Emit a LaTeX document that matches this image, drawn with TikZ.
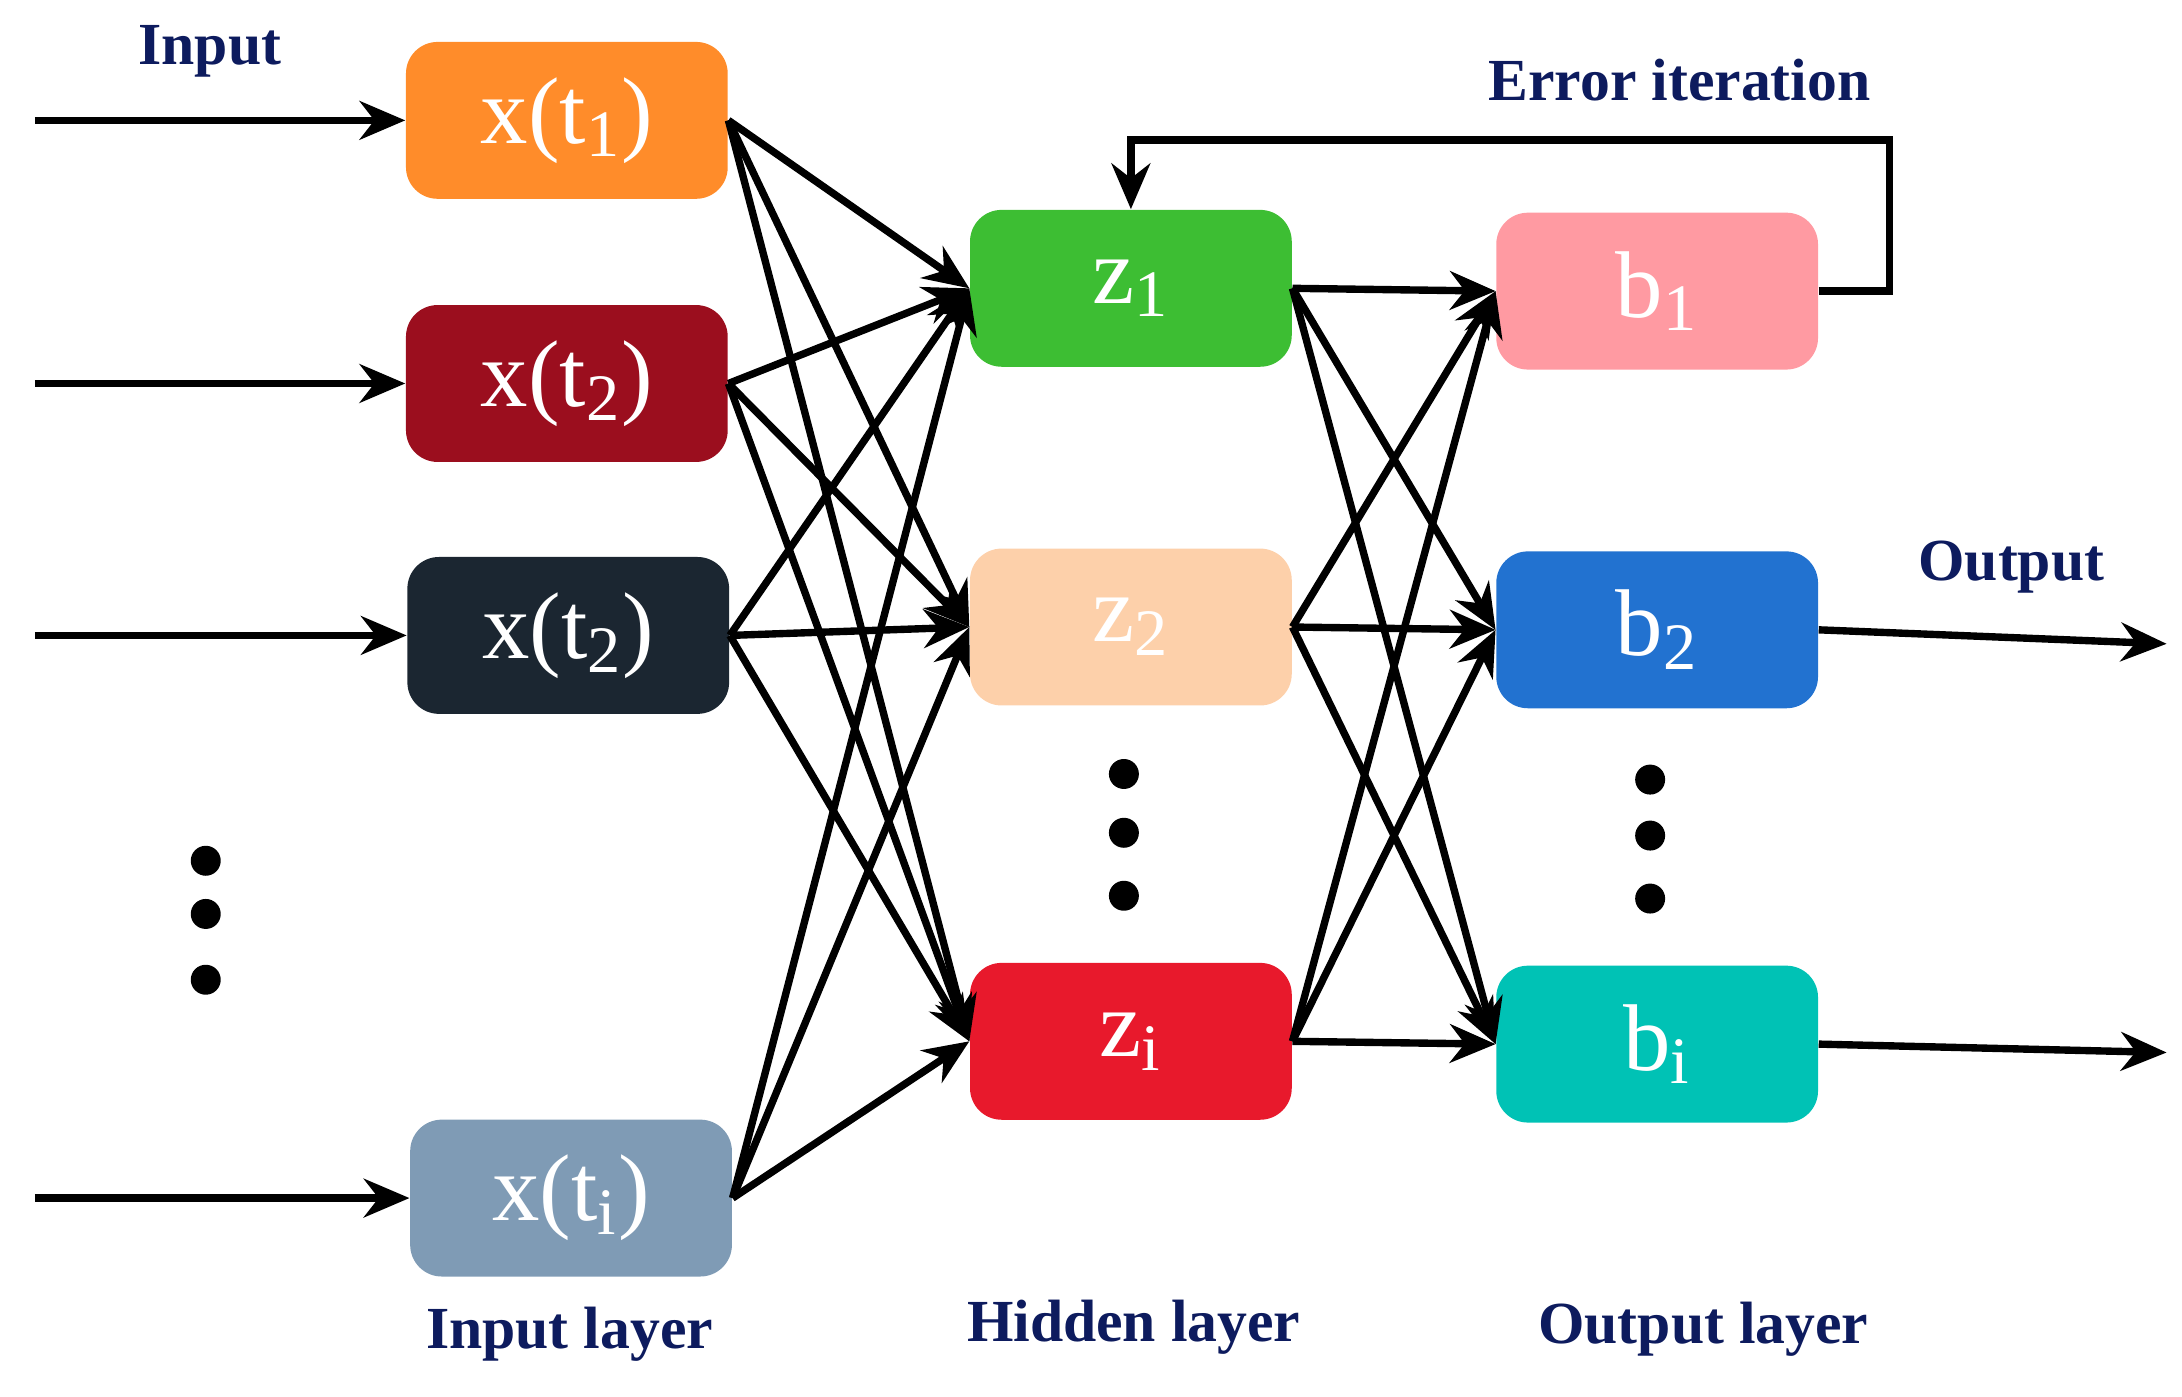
\documentclass[tikz,border=0pt]{standalone}
\usepackage{fontspec}
\setmainfont{Liberation Serif}
\usetikzlibrary{arrows.meta}
\definecolor{navy}{HTML}{0D1B5E}
\begin{document}
\begin{tikzpicture}[x=0.014cm,y=-0.014cm,
 box/.style={rounded corners=9pt,minimum width=3.22cm,minimum height=1.57cm,inner sep=0pt,text=white,font=\fontsize{27}{30}\selectfont},
 lab/.style={text=navy,font=\fontsize{17}{20}\selectfont\bfseries},
 con/.style={line width=2.1pt,-{Stealth[length=13pt,width=11pt]}},
 dot/.style={circle,fill=black,inner sep=0pt,minimum size=0.3cm}]
\useasboundingbox (0,0) rectangle (1559,998);
\node[box,fill={rgb,255:red,255;green,140;blue,42}] (x1) at (405,86) {x(t$_\mathrm{1}$)};
\node[box,fill={rgb,255:red,155;green,14;blue,30}] (x2) at (405,274) {x(t$_\mathrm{2}$)};
\node[box,fill={rgb,255:red,27;green,38;blue,49}] (x3) at (406,454) {x(t$_\mathrm{2}$)};
\node[box,fill={rgb,255:red,127;green,155;blue,181}] (xi) at (408,856) {x(t$_\mathrm{i}$)};
\node[box,fill={rgb,255:red,61;green,190;blue,51}] (z1) at (808,206) {z$_\mathrm{1}$};
\node[box,fill={rgb,255:red,253;green,208;blue,170}] (z2) at (808,448) {z$_\mathrm{2}$};
\node[box,fill={rgb,255:red,232;green,25;blue,44}] (zi) at (808,744) {z$_\mathrm{i}$};
\node[box,fill={rgb,255:red,255;green,154;blue,162}] (b1) at (1184,208) {b$_\mathrm{1}$};
\node[box,fill={rgb,255:red,34;green,114;blue,208}] (b2) at (1184,450) {b$_\mathrm{2}$};
\node[box,fill={rgb,255:red,0;green,194;blue,181}] (bi) at (1184,746) {b$_\mathrm{i}$};
\foreach \n/\y in {x1/86,x2/274,x3/454,xi/856}{
  \coordinate (s\n) at (25,\y);
  \draw[con] (s\n) -- (\n.west);}
\foreach \a in {x1,x2,x3,xi}{\foreach \b in {z1,z2,zi}{\draw[con] (\a.east) -- (\b.west);}}
\foreach \a in {z1,z2,zi}{\foreach \b in {b1,b2,bi}{\draw[con] (\a.east) -- (\b.west);}}
\coordinate (o2) at (1548,460);
\coordinate (oi) at (1548,752);
\draw[con] (b2.east) -- (o2);
\draw[con] (bi.east) -- (oi);
\coordinate (f1) at (1350,208);
\coordinate (f2) at (1350,100);
\coordinate (f3) at (808,100);
\draw[con] (b1.east) -- (f1) -- (f2) -- (f3) -- (z1.north);
\foreach \x/\y [count=\i] in {147/615,147/653,147/700,803/553,803/595,803/640,1179/557,1179/597,1179/642}{\node[dot] (d\i) at (\x,\y) {};}
\node[lab] (l1) at (150,37) {Input};
\node[lab] (l2) at (1200,57) {Error iteration};
\node[lab] (l3) at (1437,405) {Output};
\node[lab] (l4) at (407,953) {Input layer};
\node[lab] (l5) at (810,948) {Hidden layer};
\node[lab] (l6) at (1217,950) {Output layer};
\end{tikzpicture}
\end{document}
